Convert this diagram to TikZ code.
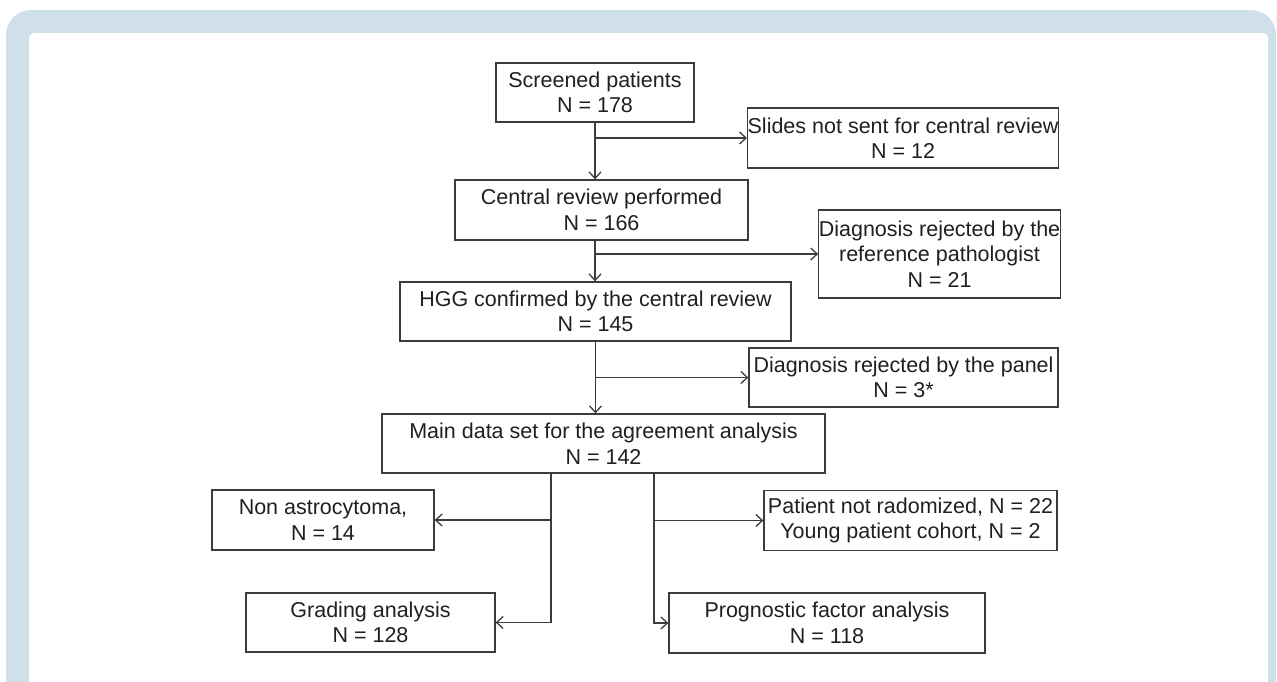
\documentclass[tikz,border=0pt]{standalone}
\usepackage{fontspec}
\setmainfont{Liberation Sans}
\usetikzlibrary{arrows.meta}
\definecolor{framebg}{RGB}{207,224,234}
\definecolor{linegray}{RGB}{60,60,60}
\definecolor{textdark}{RGB}{35,31,32}
\tikzset{
        flow/.style={
            draw=linegray, line width=1.3pt,
            -{Straight Barb[length=6.5pt,width=12pt]}
        },
    }

\begin{document}
\begin{tikzpicture}[x=1pt,y=-1pt,
          box/.style = {draw=linegray,line width=1.3pt,fill=white,text=textdark,align=center,inner sep=0pt,
                        font=\fontsize{21.5}{25.5}\selectfont},
          ]
 \useasboundingbox (0,0) rectangle (1277,681);
 % panel frame
 \fill[framebg,rounded corners=25pt] (6,10) rectangle (1276,720);
 \fill[white,rounded corners=5pt] (29,33) rectangle (1268,720);
          \node[box,minimum width=198,minimum height=59] (@screen) at (595,92.5) {Screened patients\\N = 178};
          \node[box,minimum width=310,minimum height=60] (@slides) at (903,138) {Slides not sent for central review\\N = 12};
          \node[box,minimum width=293,minimum height=60] (@central) at (601.5,210) {Central review performed\\N = 166};
          \node[box,minimum width=237,minimum height=88] (@rejref) at (939.5,254) {Diagnosis rejected by the\\reference pathologist\\N = 21};
          \node[box,minimum width=391,minimum height=59] (@hgg) at (595.5,311.5) {HGG confirmed by the central review\\N = 145};
          \node[box,minimum width=309,minimum height=59] (@rejpanel) at (903.5,377.5) {Diagnosis rejected by the panel\\N = 3*};
          \node[box,minimum width=443,minimum height=59] (@main) at (603.5,443.5) {Main data set for the agreement analysis\\N = 142};
          \node[box,minimum width=222,minimum height=60] (@nonastro) at (323,520) {Non astrocytoma,\\N = 14};
          \node[box,minimum width=293,minimum height=60] (@notrand) at (910.5,520.5) {Patient not radomized, N = 22\\Young patient cohort, N = 2};
          \node[box,minimum width=249,minimum height=59] (@grading) at (370.5,622.5) {Grading analysis\\N = 128};
          \node[box,minimum width=316,minimum height=60] (@progn) at (827,623) {Prognostic factor analysis\\N = 118};
          % main trunk
          \draw[flow] (@screen.south) -- (@screen.south |- @central.north);
          \draw[flow] (@screen.south |- @slides.west) -- (@slides.west);
          \draw[flow] (@screen.south |- @central.south) -- (@screen.south |- @hgg.north);
          \draw[flow] (@screen.south |- @rejref.west) -- (@rejref.west);
          \draw[flow] (@hgg.south) -- (@hgg.south |- @main.north);
          \draw[flow] (@hgg.south |- @rejpanel.west) -- (@rejpanel.west);
          % split below the main data set
          \coordinate (@lsplit) at ([xshift=-52.5pt]@main.south);
          \coordinate (@rsplit) at ([xshift=50.5pt]@main.south);
          \draw[flow] (@lsplit) |- (@nonastro.east);
          \draw[flow] (@lsplit) |- (@grading.east);
          \draw[flow] (@rsplit) |- (@notrand.west);
          \draw[flow] (@rsplit) |- (@progn.west);
        \end{tikzpicture}
\end{document}
